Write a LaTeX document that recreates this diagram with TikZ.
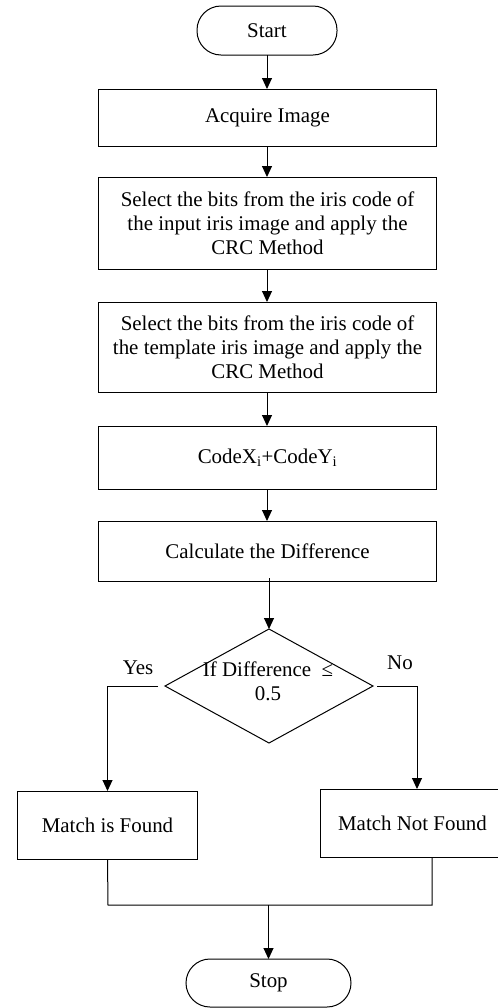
\documentclass[tikz,border=0pt]{standalone}
\usepackage{fontspec}
\setmainfont{Liberation Serif}
\usetikzlibrary{arrows.meta,shapes.geometric}
\begin{document}
\begin{tikzpicture}[x=1bp,y=-1bp,
  every node/.style={font=\fontsize{21}{24}\selectfont, inner sep=0pt, outer sep=0pt},
  line/.style={draw=black, line width=1bp},
  arr/.style={line, -{Triangle[length=11bp,width=10bp]}},
  procbox/.style={draw=black, line width=1bp, rectangle, align=center},
  term/.style={draw=black, line width=1bp, rectangle, rounded corners=24bp, align=center},
  decbox/.style={draw=black, line width=1bp, diamond}
]
\useasboundingbox (0,0) rectangle (498,1008);
\node[term, minimum width=140bp, minimum height=49bp] (start) at (267,30.5) {Start};
\node[procbox, minimum width=337bp, minimum height=57bp] (acq) at (267.5,117.5) {Acquire Image};
\node[procbox, minimum width=337bp, minimum height=92bp] (sel1) at (267.5,223) {Select the bits from the iris code of\\the input iris image and apply the\\CRC Method};
\node[procbox, minimum width=337bp, minimum height=90bp] (sel2) at (267.5,347) {Select the bits from the iris code of\\the template iris image and apply the\\CRC Method};
\node[procbox, minimum width=337bp, minimum height=63bp] (code) at (267.5,457.5) {CodeX\textsubscript{i}+CodeY\textsubscript{i}};
\node[procbox, minimum width=337bp, minimum height=60bp] (calc) at (267.5,551) {Calculate the Difference};
\node[decbox, minimum width=208bp, minimum height=114bp] (dec) at (269,686) {};
\node[align=center] (dtext) at (268,681) {If Difference\enspace ≤\\0.5};
\node (yes) at (138,668) {Yes};
\node (no) at (400,663) {No};
\node[procbox, minimum width=179bp, minimum height=68bp] (found) at (107.5,825) {Match is Found};
\node[procbox, minimum width=185bp, minimum height=68bp] (notfound) at (412.5,823) {Match Not Found};
\node[term, minimum width=165bp, minimum height=48bp] (stop) at (268.5,983) {Stop};
\coordinate (jl) at (108,905);
\coordinate (jr) at (432,905);
\coordinate (jm) at (268.5,905);
\draw[arr] (start.south) -- (start.south |- acq.north);
\draw[arr] (acq.south -| start.south) -- (start.south |- sel1.north);
\draw[arr] (sel1.south -| start.south) -- (start.south |- sel2.north);
\draw[arr] (sel2.south -| start.south) -- (start.south |- code.north);
\draw[arr] (code.south -| start.south) -- (start.south |- calc.north);
\draw[arr] ([yshift=3bp]calc.south -| dec.north) -- (dec.north);
\draw[arr] ([xshift=-7bp]dec.west) -| (found.north);
\draw[arr] ([xshift=4bp]dec.east) -| ([xshift=4.5bp]notfound.north);
\draw[line] (found.south) -- (jl) -- (jr) -- (jr |- notfound.south);
\draw[arr] (jm) -- (stop.north);
\end{tikzpicture}
\end{document}
